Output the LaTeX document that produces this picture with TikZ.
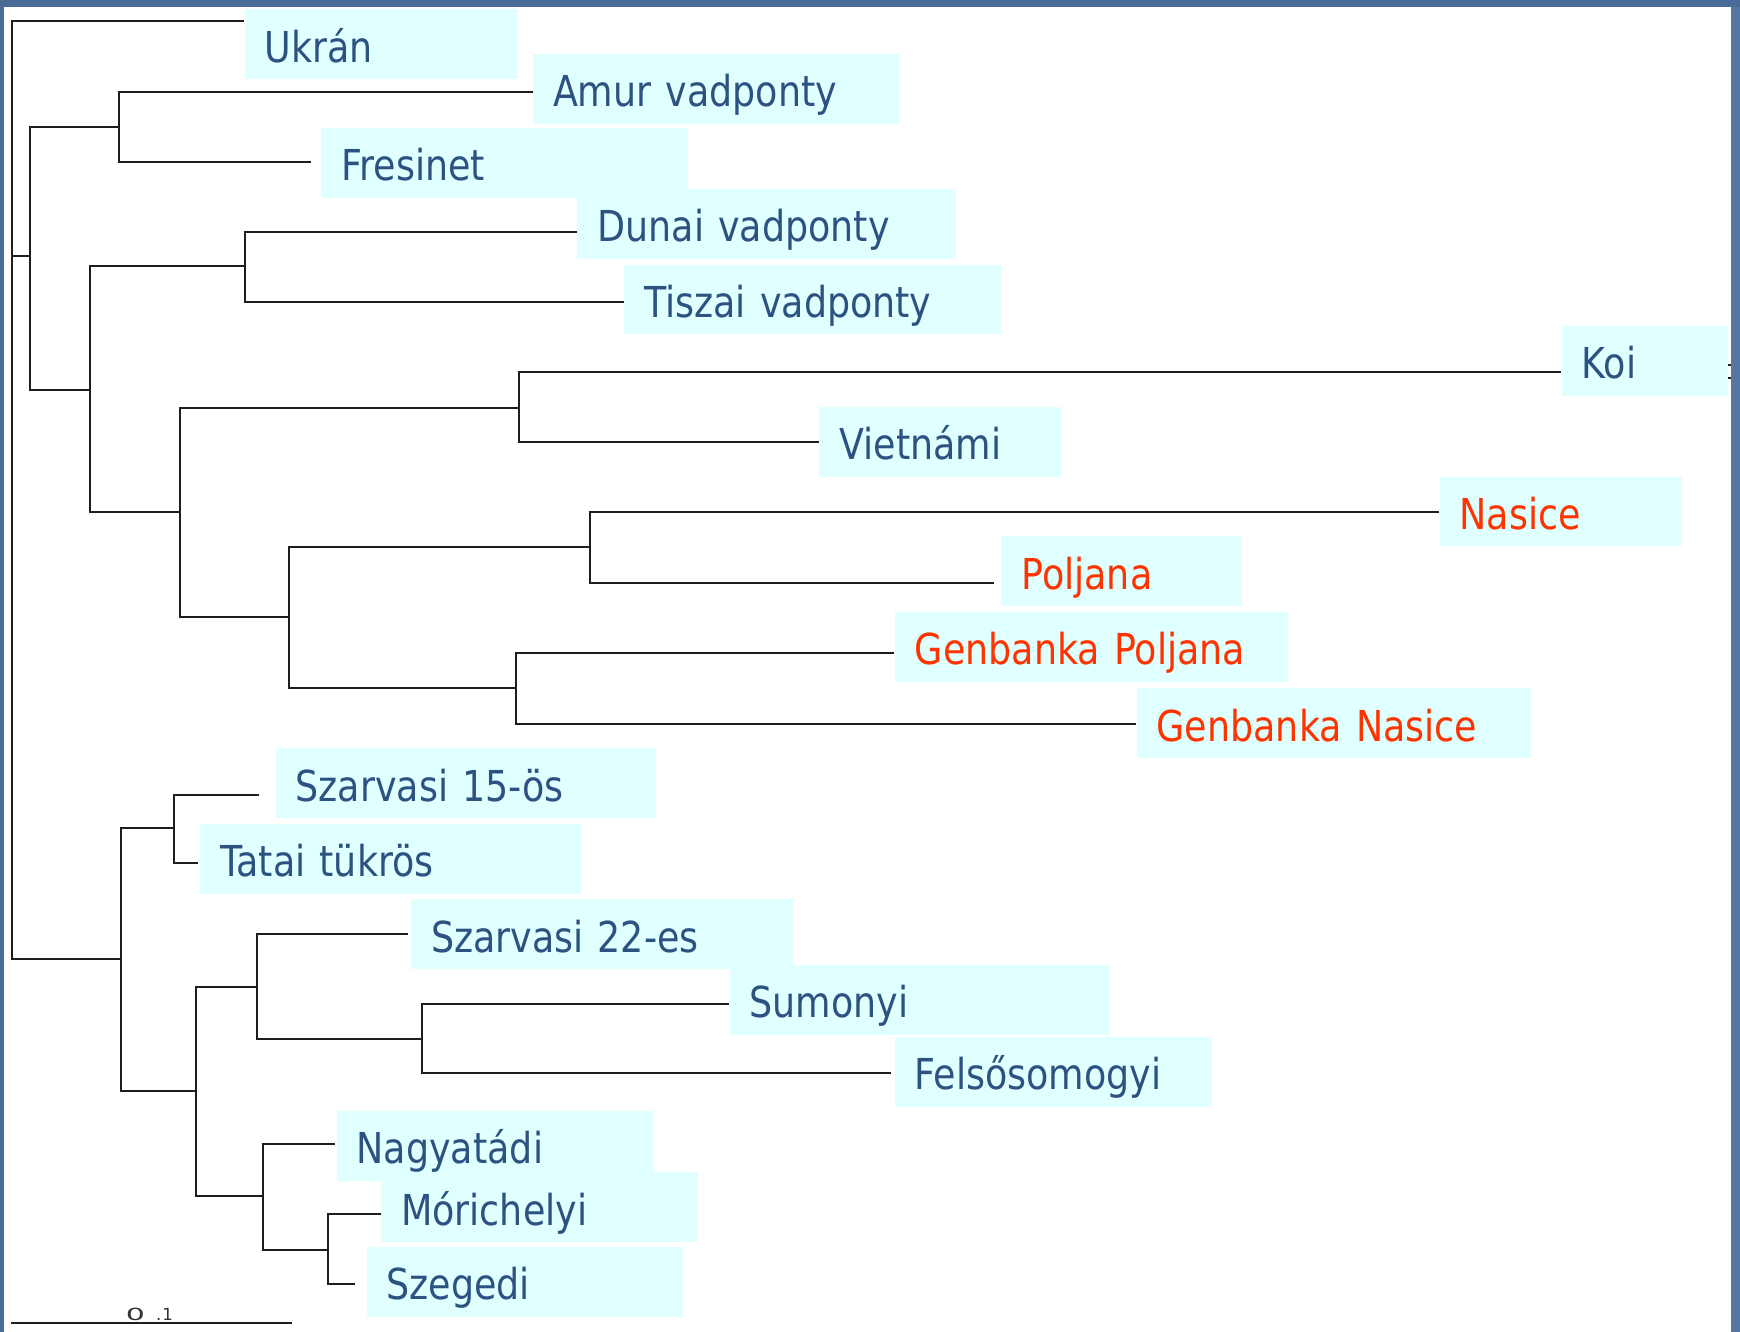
\documentclass[tikz,border=0pt]{standalone}
\usepackage{fontspec}
\usepackage{graphicx}
\setmainfont{DejaVu Sans}[FakeStretch=0.855]
\newfontfamily\scalebarfont{DejaVu Sans}
\definecolor{framecol}{HTML}{486C95}
\definecolor{framecolr}{HTML}{5678A0}
\definecolor{boxcyan}{HTML}{E0FFFF}
\definecolor{lblblue}{HTML}{2C5282}
\definecolor{lblred}{HTML}{FF3300}
\definecolor{treeline}{HTML}{1E1E1E}
\definecolor{scalegray}{HTML}{333333}
\tikzset{
  tree/.style={draw=treeline, line width=0.9pt},
  lbl/.style={fill=boxcyan, anchor=north west, inner xsep=9pt, inner ysep=0pt,
    minimum height=31.5pt, text height=16pt, text depth=0pt, align=left,
    font=\fontsize{19.2}{22}\selectfont, text=lblblue},
  redlbl/.style={lbl, text=lblred},
  scalelbl/.style={anchor=base west, inner sep=0pt, text=scalegray,
    font=\scalebarfont\fontsize{7.5}{9}\selectfont}
}
\begin{document}
\begin{tikzpicture}[x=0.5pt, y=-0.5pt]
\useasboundingbox (0,0) rectangle (1568,1200);
\fill[white] (0,0) rectangle (1568,1200);

% tips
\coordinate (tukr) at (220,19);
\coordinate (tamur) at (480,83);
\coordinate (tfres) at (280,146);
\coordinate (tduna) at (520,209);
\coordinate (ttisz) at (562,272);
\coordinate (tkoi) at (1407,335);
\coordinate (tviet) at (738,398);
\coordinate (tnas) at (1297,461);
\coordinate (tpolj) at (896,525);
\coordinate (tgpol) at (806,588);
\coordinate (tgnas) at (1024,652);
\coordinate (tsz15) at (233,716);
\coordinate (ttata) at (178,778);
\coordinate (tsz22) at (368,842);
\coordinate (tsumo) at (657,905);
\coordinate (tfels) at (803,967);
\coordinate (tnagy) at (302,1031);
\coordinate (tmori) at (343,1094);
\coordinate (tszeg) at (320,1157);

% internal nodes
\coordinate (root) at (11,441);
\coordinate (ntop) at (27,231);
\coordinate (naf) at (107,114);
\coordinate (nmid) at (81,351);
\coordinate (ndt) at (221,240);
\coordinate (nkvr) at (162,461);
\coordinate (nkv) at (468,368);
\coordinate (nng) at (260,556);
\coordinate (nnp) at (532,493);
\coordinate (ngg) at (465,620);
\coordinate (nbot) at (109,864);
\coordinate (nst) at (157,746);
\coordinate (nrest) at (177,983);
\coordinate (ns) at (232,889);
\coordinate (nsf) at (380,936);
\coordinate (nms) at (237,1078);
\coordinate (nmz) at (296,1126);

% branches
\draw[tree] (tukr) -| (root) |- (nbot);
\draw[tree] (root |- ntop) -- (ntop);
\draw[tree] (naf) -| (ntop) |- (nmid);
\draw[tree] (tamur) -| (naf) |- (tfres);
\draw[tree] (ndt) -| (nmid) |- (nkvr);
\draw[tree] (tduna) -| (ndt) |- (ttisz);
\draw[tree] (nkv) -| (nkvr) |- (nng);
\draw[tree] (tkoi) -| (nkv) |- (tviet);
\draw[tree] (nnp) -| (nng) |- (ngg);
\draw[tree] (tnas) -| (nnp) |- (tpolj);
\draw[tree] (tgpol) -| (ngg) |- (tgnas);
\draw[tree] (nst) -| (nbot) |- (nrest);
\draw[tree] (tsz15) -| (nst) |- (ttata);
\draw[tree] (ns) -| (nrest) |- (nms);
\draw[tree] (tsz22) -| (ns) |- (nsf);
\draw[tree] (tsumo) -| (nsf) |- (tfels);
\draw[tree] (tnagy) -| (nms) |- (nmz);
\draw[tree] (tmori) -| (nmz) |- (tszeg);

% label boxes
\node[lbl, text width=105pt] (ukr) at (220,8) {Ukrán};
\node[lbl, text width=147pt] (amur) at (480,48) {Amur vadponty};
\node[lbl, text width=147.5pt] (fres) at (289,115) {Fresinet};
\node[lbl, text width=152.5pt] (duna) at (520,170) {Dunai vadponty};
\node[lbl, text width=152pt] (tisz) at (562,238) {Tiszai vadponty};
\node[lbl, text width=57pt] (koi) at (1407,293) {Koi};
\node[lbl, text width=91pt] (viet) at (738,366) {Vietnámi};
\node[redlbl, text width=91pt] (nas) at (1297,429) {Nasice};
\node[redlbl, text width=90.5pt] (polj) at (902,483) {Poljana};
\node[redlbl, text width=159pt] (gpol) at (806,551) {Genbanka Poljana};
\node[redlbl, text width=159.5pt] (gnas) at (1024,620) {Genbanka Nasice};
\node[lbl, text width=153.5pt] (sz15) at (248,674) {Szarvasi 15-ös};
\node[lbl, text width=153.5pt] (tata) at (180,742) {Tatai tükrös};
\node[lbl, text width=154pt] (sz22) at (370,810) {Szarvasi 22-es};
\node[lbl, text width=153.5pt] (sumo) at (657,869) {Sumonyi};
\node[lbl, text width=125pt] (fels) at (806,934) {Felsősomogyi};
\node[lbl, text width=124.5pt] (nagy) at (303,1001) {Nagyatádi};
\node[lbl, text width=125pt] (mori) at (343,1056) {Mórichelyi};
\node[lbl, text width=124.5pt] (szeg) at (330,1123) {Szegedi};

% small fragments right of Koi
\coordinate (ka1) at (1557,329); \coordinate (kb1) at (1561,329);
\coordinate (ka2) at (1557,341); \coordinate (kb2) at (1561,341);
\draw[tree] (ka1) -- (kb1);
\draw[tree] (ka2) -- (kb2);

% scale bar
\coordinate (sbl) at (10,1192);
\coordinate (sbr) at (263,1192);
\draw[tree] (sbl) -- (sbr);
\node[scalelbl] (scl) at (113,1190) {\scalebox{1.8}[1]{0}\kern5pt.\kern0.5pt1};

% frame
\fill[framecol] (0,0) rectangle (1568,6.5);
\fill[framecol] (0,0) rectangle (3.5,1200);
\fill[framecolr] (1560,0) rectangle (1568,1200);
\fill[framecol] (1560,0) rectangle (1568,6.5);
\end{tikzpicture}
\end{document}
